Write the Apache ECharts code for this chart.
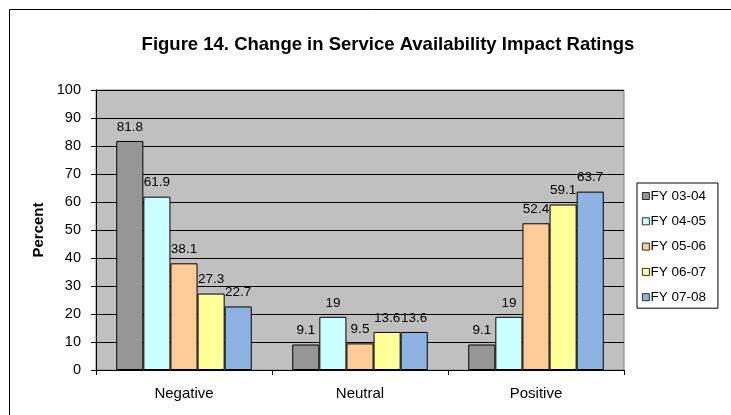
<!DOCTYPE html>
<html>
<head>
<meta charset="utf-8">
<script src="https://cdn.jsdelivr.net/npm/echarts@6/dist/echarts.min.js"></script>
<style>
  html, body { margin: 0; padding: 0; background: #fff; }
  #chart { width: 731px; height: 415px; }
</style>
</head>
<body>
<div id="chart"></div>
<script>
// Ratings categories and yearly percentages
const categories = ['Negative', 'Neutral', 'Positive'];
const seriesNames = ['FY 03-04', 'FY 04-05', 'FY 05-06', 'FY 06-07', 'FY 07-08'];
const fy0304 = [81.8, 9.1, 9.1];
const fy0405 = [61.9, 19, 19];
const fy0506 = [38.1, 9.5, 52.4];
const fy0607 = [27.3, 13.6, 59.1];
const fy0708 = [22.7, 13.6, 63.7];
const yTicks = [0, 10, 20, 30, 40, 50, 60, 70, 80, 90, 100];

const seriesValues = [fy0304, fy0405, fy0506, fy0607, fy0708];
const colors = ['#969696', '#ccffff', '#ffcc99', '#ffff99', '#8eb2e2'];
const font = 'Liberation Sans, Arial, sans-serif';

const chart = echarts.init(document.getElementById('chart'));
chart.setOption({
  animation: false,
  title: {
    text: 'Figure 14. Change in Service Availability Impact Ratings',
    left: 383,
    textAlign: 'center',
    top: 30,
    textStyle: { fontFamily: font, fontSize: 18.5, fontWeight: 'bold', color: '#000' }
  },
  graphic: [
    {
      type: 'rect',
      shape: { x: 9.5, y: 9.5, width: 760, height: 440 },
      style: { fill: 'none', stroke: '#000', lineWidth: 1 },
      z: -1
    }
  ],
  legend: {
    orient: 'vertical',
    left: 637,
    top: 183,
    data: seriesNames,
    itemWidth: 7,
    itemHeight: 7,
    itemGap: 11.3,
    padding: [6, 12, 4, 5],
    borderColor: '#000',
    borderWidth: 1,
    icon: 'rect',
    itemStyle: { borderColor: '#000', borderWidth: 0.8 },
    textStyle: { fontFamily: font, fontSize: 13.5, lineHeight: 14, color: '#000', padding: [0, 0, 0, -4] }
  },
  grid: {
    left: 96,
    top: 90,
    right: 107,
    bottom: 45,
    show: true,
    backgroundColor: '#c0c0c0',
    borderColor: '#808080',
    borderWidth: 1
  },
  xAxis: {
    type: 'category',
    data: categories,
    axisLine: { lineStyle: { color: '#000', width: 1 } },
    axisTick: { show: true, length: 5, lineStyle: { color: '#000' } },
    axisLabel: { fontFamily: font, fontSize: 15, color: '#000', margin: 16 }
  },
  yAxis: {
    type: 'value',
    min: yTicks[0],
    max: yTicks[yTicks.length - 1],
    interval: 10,
    name: 'Percent',
    nameLocation: 'middle',
    nameGap: 49,
    nameTextStyle: { fontFamily: font, fontSize: 15, fontWeight: 'bold', color: '#000' },
    axisLine: { show: true, lineStyle: { color: '#000', width: 1 } },
    axisTick: { show: true, length: 5, lineStyle: { color: '#000' } },
    axisLabel: { fontFamily: font, fontSize: 14.5, color: '#000', margin: 15 },
    splitLine: { lineStyle: { color: '#000', width: 1 } }
  },
  series: seriesNames.map((name, i) => ({
    name: name,
    type: 'bar',
    data: seriesValues[i],
    barGap: '0%',
    barCategoryGap: '23%',
    itemStyle: { color: colors[i], borderColor: '#000', borderWidth: 1 },
    label: {
      show: true,
      position: 'top',
      distance: 7,
      fontFamily: font,
      fontSize: 13.5,
      color: '#000'
    }
  }))
});
</script>
</body>
</html>
